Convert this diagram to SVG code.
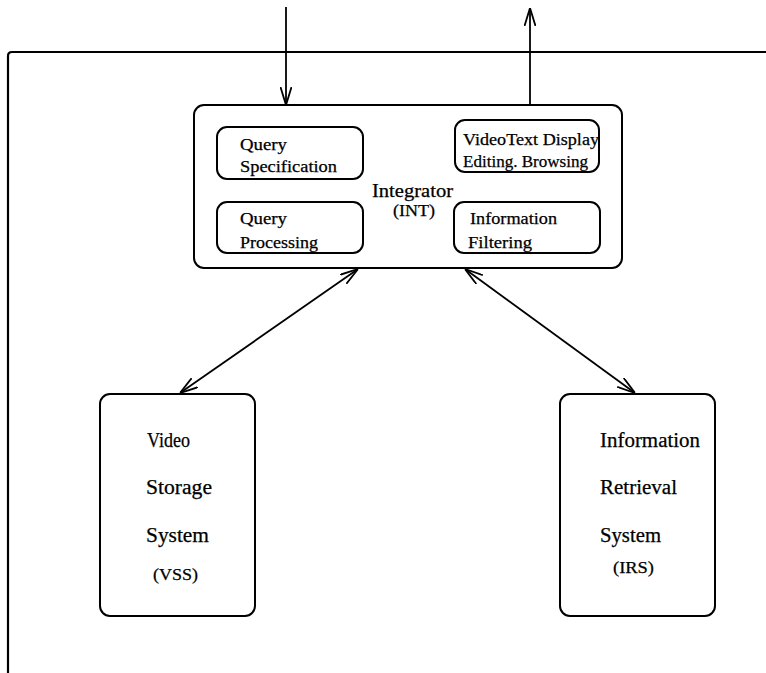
<svg xmlns="http://www.w3.org/2000/svg" width="766" height="673" viewBox="0 0 766 673">
  <style>
    .box { fill: #fff; stroke: #000; stroke-width: 2; }
    .line { fill: none; stroke: #000; stroke-width: 1.8; }
    .frame { fill: none; stroke: #000; stroke-width: 2.2; }
    text { font-family: "Liberation Serif", "Times New Roman", serif; fill: #000; stroke: #000; stroke-width: 0.25; }
    .small { font-size: 16.5px; }
    .mid { font-size: 18px; }
    .big { font-size: 20px; }
  </style>
  <defs>
    <marker id="arrow" viewBox="0 0 18 12" refX="18" refY="6" markerWidth="18" markerHeight="12" markerUnits="userSpaceOnUse" orient="auto-start-reverse">
      <path d="M0,0.5 L18,6 L0,11.5" fill="none" stroke="#000" stroke-width="1.8"/>
    </marker>
  </defs>

  <!-- system boundary -->
  <path class="frame" d="M8,673 L8,56 Q8,52 12,52 L766,52"/>

  <!-- connectors -->
  <g id="connectors">
    <line class="line" x1="286" y1="7" x2="286" y2="105" marker-end="url(#arrow)"/>
    <line class="line" x1="530" y1="105" x2="530" y2="8" marker-end="url(#arrow)"/>
    <line class="line" x1="358" y1="269" x2="180" y2="393" marker-start="url(#arrow)" marker-end="url(#arrow)"/>
    <line class="line" x1="465" y1="269" x2="635" y2="393" marker-start="url(#arrow)" marker-end="url(#arrow)"/>
  </g>

  <!-- integrator -->
  <g id="int">
    <rect class="box" x="194" y="105" width="428" height="163" rx="10"/>
    <text class="mid" x="372" y="197" textLength="81" lengthAdjust="spacingAndGlyphs">Integrator</text>
    <text class="small" x="393" y="216" textLength="42" lengthAdjust="spacingAndGlyphs">(INT)</text>
  </g>

  <g id="query-spec">
    <rect class="box" x="217" y="127" width="146" height="52" rx="10"/>
    <text class="small" x="240" y="150" textLength="47" lengthAdjust="spacingAndGlyphs">Query</text>
    <text class="small" x="240" y="172" textLength="97" lengthAdjust="spacingAndGlyphs">Specification</text>
  </g>

  <g id="query-proc">
    <rect class="box" x="217" y="202" width="146" height="51" rx="10"/>
    <text class="small" x="240" y="224" textLength="47" lengthAdjust="spacingAndGlyphs">Query</text>
    <text class="small" x="240" y="248" textLength="78" lengthAdjust="spacingAndGlyphs">Processing</text>
  </g>

  <g id="videotext">
    <rect class="box" x="455" y="120" width="144" height="52" rx="10"/>
    <text class="small" x="463" y="145" textLength="136" lengthAdjust="spacingAndGlyphs">VideoText Display</text>
    <text class="small" x="463" y="167" textLength="125" lengthAdjust="spacingAndGlyphs">Editing. Browsing</text>
  </g>

  <g id="info-filter">
    <rect class="box" x="454" y="202" width="146" height="51" rx="10"/>
    <text class="small" x="470" y="224" textLength="87" lengthAdjust="spacingAndGlyphs">Information</text>
    <text class="small" x="468" y="248" textLength="64" lengthAdjust="spacingAndGlyphs">Filtering</text>
  </g>

  <!-- storage and retrieval subsystems -->
  <g id="vss">
    <rect class="box" x="100" y="394" width="155" height="222" rx="10"/>
    <text class="big" x="147" y="447" textLength="43" lengthAdjust="spacingAndGlyphs">Video</text>
    <text class="big" x="146" y="494" textLength="66" lengthAdjust="spacingAndGlyphs">Storage</text>
    <text class="big" x="146" y="542" textLength="63" lengthAdjust="spacingAndGlyphs">System</text>
    <text class="small" x="153" y="580" textLength="45" lengthAdjust="spacingAndGlyphs">(VSS)</text>
  </g>

  <g id="irs">
    <rect class="box" x="560" y="394" width="155" height="222" rx="10"/>
    <text class="big" x="600" y="447" textLength="100" lengthAdjust="spacingAndGlyphs">Information</text>
    <text class="big" x="600" y="494" textLength="77" lengthAdjust="spacingAndGlyphs">Retrieval</text>
    <text class="big" x="600" y="542" textLength="61" lengthAdjust="spacingAndGlyphs">System</text>
    <text class="small" x="613" y="573" textLength="41" lengthAdjust="spacingAndGlyphs">(IRS)</text>
  </g>
</svg>
